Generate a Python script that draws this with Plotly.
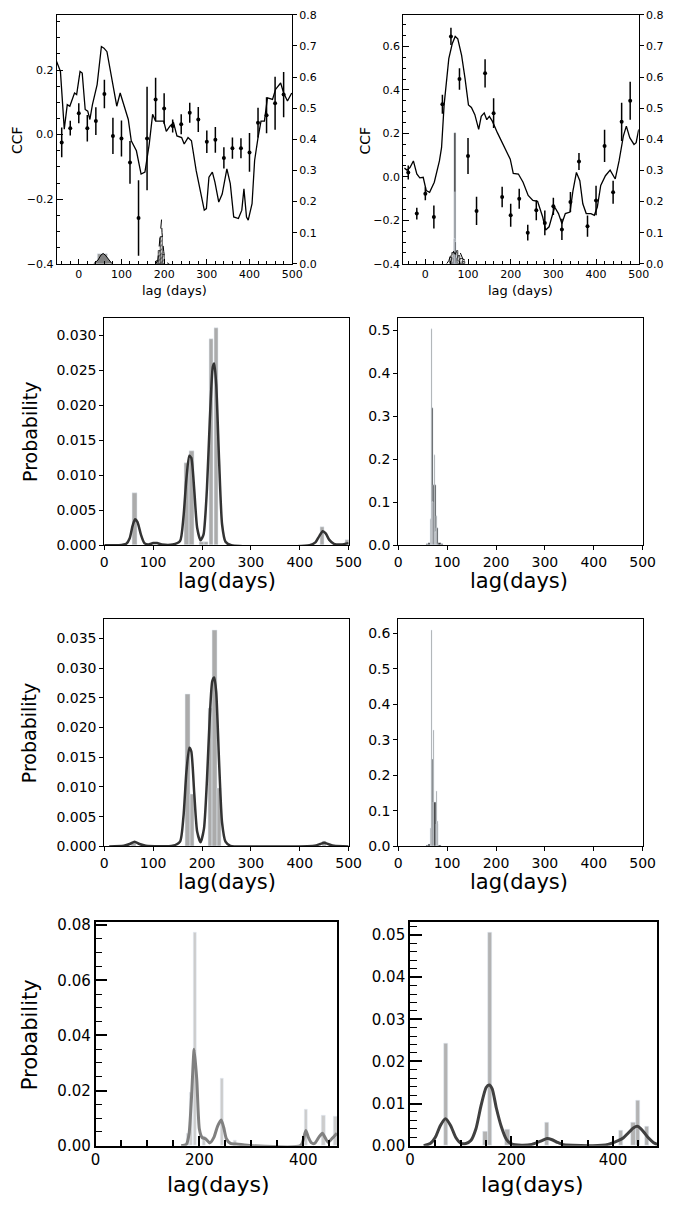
import plotly.graph_objects as go

W, H = 678, 1205

# ---------------- Row 1 left: CCF ----------------
lag1 = [-52,-43,-34,-27,-21,-10,-5,3,8,15,21,26,32,43,53,59,66,78,89,97,108,116,123,135,146,155,165,173,180,199,205,214,222,230,241,247,256,264,275,283,294,299,305,313,319,328,336,347,355,363,374,382,387,393,397,406,412,420,427,435,442,454,461,473,480,489,499]
ccf1 = [0.227,0.196,0.017,0.093,0.088,0.129,0.124,0.196,0.191,0.078,0.073,0.047,0.093,0.155,0.273,0.268,0.257,0.175,0.088,0.129,0.083,0.047,-0.019,-0.050,-0.122,-0.116,-0.030,0.063,0.042,0.042,0.010,0.027,0.037,-0.004,-0.009,-0.029,-0.009,-0.019,-0.111,-0.162,-0.234,-0.229,-0.132,-0.116,-0.147,-0.209,-0.184,-0.106,-0.152,-0.255,-0.260,-0.234,-0.168,-0.255,-0.265,-0.214,-0.080,-0.009,0.042,0.042,0.114,0.109,0.140,0.160,0.129,0.104,0.129]
pt_lag = [-40,-20,0,20,40,60,80,100,120,140,160,180,200,220,240,260,280,300,320,340,360,380,400,420,440,460,480]
pt1 = [-0.024,0.020,0.066,0.020,0.042,0.126,-0.004,-0.012,-0.086,-0.258,-0.012,0.109,0.081,0.027,0.032,0.068,0.047,-0.022,-0.016,-0.072,-0.042,-0.042,-0.055,0.037,0.060,0.097,0.124]
err1 = [0.046,0.023,0.031,0.041,0.043,0.044,0.056,0.056,0.066,0.117,0.160,0.067,0.047,0.020,0.031,0.031,0.039,0.035,0.040,0.033,0.033,0.031,0.060,0.046,0.056,0.082,0.070]
h1_gray_lag = [56]
h1_gray_val = [0.032]
h1_curve_lag = [35,45,52,57,62,70,78]
h1_curve_val = [0,0.012,0.028,0.033,0.028,0.012,0]
h1_hatch_lag = [184,189,194,199]
h1_hatch_val = [0.01,0.04,0.085,0.03]
h1_dash_lag = [180,185,188,190,192,194,195,197,199,202,206,212]
h1_dash_val = [0,0.01,0.05,0.09,0.12,0.143,0.10,0.06,0.04,0.01,0.003,0]

# ---------------- Row 1 right: CCF ----------------
lag2 = [-49,-43,-36,-28,-20,-13,-5,2,10,21,33,38,44,55,63,70,76,85,93,101,108,116,125,131,138,144,150,157,169,184,199,206,218,229,241,252,263,275,282,290,297,303,312,320,328,339,346,354,362,369,377,388,396,403,411,422,433,445,454,464,471,479,489,494,500]
ccf2 = [0.040,0.031,0.043,0.073,0.013,-0.005,-0.002,-0.063,-0.071,-0.025,0.073,0.134,0.331,0.544,0.612,0.646,0.635,0.559,0.453,0.331,0.319,0.286,0.218,0.278,0.294,0.263,0.278,0.256,0.202,0.142,0.081,0.016,0.013,-0.025,-0.086,-0.109,-0.113,-0.185,-0.245,-0.230,-0.177,-0.139,-0.169,-0.215,-0.169,-0.162,-0.063,0.020,-0.018,-0.124,-0.169,-0.169,-0.177,-0.139,-0.040,0.005,0.031,-0.010,0.073,0.187,0.233,0.180,0.149,0.157,0.218]
pt2 = [0.020,-0.169,-0.078,-0.185,0.334,0.646,0.450,0.096,-0.157,0.476,0.293,-0.093,-0.177,-0.101,-0.257,-0.154,-0.212,-0.136,-0.242,-0.116,0.070,-0.227,-0.109,0.142,-0.071,0.253,0.350]
err2 = [0.032,0.027,0.030,0.053,0.044,0.040,0.050,0.083,0.065,0.065,0.068,0.047,0.053,0.046,0.036,0.046,0.057,0.040,0.049,0.046,0.039,0.049,0.068,0.074,0.053,0.088,0.087]
h2_gray_lag = [70]
h2_gray_val = [0.42]
h2_blk_lag = [64,66,68,70,72,74,76]
h2_blk_val = [0.005,0.02,0.08,0.23,0.07,0.02,0.005]
h2_hatch_lag = [60,65,75,80,85,90]
h2_hatch_val = [0.02,0.035,0.04,0.025,0.015,0.005]
h2_dash_lag = [50,55,60,63,66,70,75,78,82,88,95,105]
h2_dash_val = [0,0.01,0.03,0.02,0.04,0.03,0.045,0.03,0.035,0.015,0.01,0]

# ---------------- Row 2 ----------------
p3_bar_lag = [62,169,179,199,209,219,229,446,497]
p3_bar_val = [0.0074,0.0117,0.0135,0.0004,0.0005,0.0295,0.0311,0.0026,0.0008]
p3_kde_lag = [0,30,45,52,58,63,68,75,82,90,100,108,118,140,155,162,168,174,178,184,190,197,203,210,216,222,225,229,235,241,248,260,420,432,440,447,453,460,470,485,500]
p3_kde_val = [0,0,0.0002,0.001,0.0028,0.0037,0.0033,0.0015,0.0003,0.0001,0.0003,0.0003,0.0001,0.0001,0.0006,0.004,0.0095,0.0128,0.0125,0.008,0.0025,0.0007,0.0015,0.008,0.018,0.0255,0.026,0.023,0.012,0.003,0.0005,0,0,0.0004,0.0013,0.002,0.0017,0.0008,0.0002,0.0001,0.0003]
p4_blk_lag = [59.5,64.5,69.5,74.5,79.5,84.5,89.5]
p4_blk_val = [0.003,0.006,0.318,0.14,0.04,0.005,0.002]
p4_gray_lag = [66,69,71,74,77,79]
p4_gray_val = [0.06,0.503,0.10,0.21,0.03,0.067]

# ---------------- Row 3 ----------------
p5_bar_lag = [60,170.5,180,217,226.5,235,450]
p5_bar_val = [0.0007,0.0256,0.0087,0.0233,0.0364,0.0097,0.0009]
p5_kde_lag = [10,40,52,62,72,85,140,155,162,168,174,178,184,190,197,204,210,216,221,225,229,235,241,248,258,300,430,442,450,458,470,500]
p5_kde_val = [0,0.0001,0.0004,0.0008,0.0004,0.0001,0.0001,0.0008,0.005,0.0125,0.0166,0.016,0.009,0.0025,0.0007,0.003,0.011,0.022,0.0278,0.0284,0.026,0.014,0.004,0.0008,0.0001,0,0.0001,0.0004,0.0006,0.0004,0.0001,0]
p6_blk_lag = [59.5,64.5,69.5,74.5,79.5,84.5]
p6_blk_val = [0.003,0.006,0.244,0.125,0.061,0.004]
p6_gray_lag = [67,69,73,79,81]
p6_gray_val = [0.05,0.607,0.326,0.155,0.071]

# ---------------- Row 4 ----------------
p7_bar_lag = [178,184,192,209,244,269,405,439,462]
p7_bar_val = [0.0044,0.0193,0.0773,0.0035,0.0244,0.002,0.0131,0.011,0.0107]
p7_kde_lag = [165,175,180,185,190,195,200,205,212,220,228,235,242,247,252,260,275,300,395,400,405,410,416,422,430,437,442,448,455,465]
p7_kde_val = [0,0.0005,0.004,0.018,0.035,0.024,0.006,0.003,0.0025,0.001,0.003,0.007,0.0093,0.0065,0.0025,0.0008,0.0005,0,0,0.002,0.0055,0.003,0.001,0.0008,0.003,0.0045,0.003,0.0012,0.0025,0.0045]
p8_bar_lag = [71.5,149,157.5,192,270,416,440.5,449.5,467]
p8_bar_val = [0.0242,0.0033,0.0507,0.0039,0.0056,0.0035,0.0055,0.0108,0.0045]
p8_kde_lag = [27,40,50,60,70,80,90,100,110,120,130,140,150,156,162,170,180,190,200,220,240,260,270,280,290,300,320,360,390,410,420,430,440,448,455,462,470,480,487]
p8_kde_val = [0,0.0005,0.002,0.0048,0.0064,0.0048,0.002,0.0006,0.0005,0.0012,0.004,0.0095,0.0138,0.0144,0.0135,0.009,0.0045,0.0015,0.0004,0.0001,0.0003,0.0012,0.0017,0.0014,0.0008,0.0003,0.0001,0,0.0003,0.0012,0.0018,0.003,0.0042,0.0046,0.004,0.003,0.0018,0.0007,0.0003]

FONT = "DejaVu Sans"


def dx(a, b):
    return [a / W, b / W]


def dy(t, b):
    return [1 - b / H, 1 - t / H]


fig = go.Figure()

hatch = dict(color="white", line=dict(color="black", width=0.7),
             pattern=dict(shape="/", fgcolor="black", bgcolor="white", size=3, solidity=0.35))

# ---- P1 ----
fig.add_trace(go.Scatter(x=lag1, y=ccf1, mode="lines", line=dict(color="black", width=1.3), xaxis="x", yaxis="y"))
fig.add_trace(go.Scatter(x=pt_lag, y=pt1, mode="markers", marker=dict(color="black", size=4),
                         error_y=dict(type="data", array=err1, color="black", thickness=1.5, width=0),
                         xaxis="x", yaxis="y"))
fig.add_trace(go.Bar(x=h1_gray_lag, y=h1_gray_val, width=24, marker=dict(color="#a0a0a0"), xaxis="x", yaxis="y2"))
fig.add_trace(go.Scatter(x=h1_curve_lag, y=h1_curve_val, mode="lines", fill="tozeroy", fillcolor="#808080",
                         line=dict(color="black", width=1), xaxis="x", yaxis="y2"))
fig.add_trace(go.Bar(x=h1_hatch_lag, y=h1_hatch_val, width=5, marker=hatch, xaxis="x", yaxis="y2"))
fig.add_trace(go.Scatter(x=h1_dash_lag, y=h1_dash_val, mode="lines", line=dict(color="black", width=1, dash="dash"),
                         xaxis="x", yaxis="y2"))

# ---- P2 ----
fig.add_trace(go.Scatter(x=lag2, y=ccf2, mode="lines", line=dict(color="black", width=1.3), xaxis="x2", yaxis="y3"))
fig.add_trace(go.Scatter(x=pt_lag, y=pt2, mode="markers", marker=dict(color="black", size=4),
                         error_y=dict(type="data", array=err2, color="black", thickness=1.5, width=0),
                         xaxis="x2", yaxis="y3"))
fig.add_trace(go.Bar(x=h2_hatch_lag, y=h2_hatch_val, width=5, marker=hatch, xaxis="x2", yaxis="y4"))
fig.add_trace(go.Scatter(x=h2_dash_lag, y=h2_dash_val, mode="lines", line=dict(color="black", width=1, dash="dash"),
                         xaxis="x2", yaxis="y4"))
fig.add_trace(go.Bar(x=h2_gray_lag, y=h2_gray_val, width=2.8, marker=dict(color="#3a3a3a"), xaxis="x2", yaxis="y4"))
fig.add_trace(go.Bar(x=h2_blk_lag, y=h2_blk_val, width=2, marker=dict(color="#111111"), xaxis="x2", yaxis="y4"))

# ---- P3 ----
fig.add_trace(go.Bar(x=p3_bar_lag, y=p3_bar_val, width=9.5, marker=dict(color="#ababab"), xaxis="x3", yaxis="y5"))
fig.add_trace(go.Scatter(x=p3_kde_lag, y=p3_kde_val, mode="lines", line=dict(color="#333333", width=2.5, shape="spline", smoothing=0.6),
                         xaxis="x3", yaxis="y5"))
# ---- P4 ----
fig.add_trace(go.Bar(x=p4_blk_lag, y=p4_blk_val, width=5, marker=dict(color="#141414"), xaxis="x4", yaxis="y6"))
fig.add_trace(go.Bar(x=p4_gray_lag, y=p4_gray_val, width=2, marker=dict(color="#8c8c8c"), xaxis="x4", yaxis="y6"))
# ---- P5 ----
fig.add_trace(go.Bar(x=p5_bar_lag, y=p5_bar_val, width=9.5, marker=dict(color="#ababab"), xaxis="x5", yaxis="y7"))
fig.add_trace(go.Scatter(x=p5_kde_lag, y=p5_kde_val, mode="lines", line=dict(color="#333333", width=2.5, shape="spline", smoothing=0.6),
                         xaxis="x5", yaxis="y7"))
# ---- P6 ----
fig.add_trace(go.Bar(x=p6_blk_lag, y=p6_blk_val, width=5, marker=dict(color="#141414"), xaxis="x6", yaxis="y8"))
fig.add_trace(go.Bar(x=p6_gray_lag, y=p6_gray_val, width=2, marker=dict(color="#8c8c8c"), xaxis="x6", yaxis="y8"))
# ---- P7 ----
fig.add_trace(go.Bar(x=p7_bar_lag, y=p7_bar_val, width=6.5, marker=dict(color="#cccccc"), xaxis="x7", yaxis="y9"))
fig.add_trace(go.Scatter(x=p7_kde_lag, y=p7_kde_val, mode="lines", line=dict(color="#808080", width=3, shape="spline", smoothing=0.6),
                         xaxis="x7", yaxis="y9"))
# ---- P8 ----
fig.add_trace(go.Bar(x=p8_bar_lag, y=p8_bar_val, width=8.5, marker=dict(color="#b3b3b3"), xaxis="x8", yaxis="y10"))
fig.add_trace(go.Scatter(x=p8_kde_lag, y=p8_kde_val, mode="lines", line=dict(color="#404040", width=3, shape="spline", smoothing=0.6),
                         xaxis="x8", yaxis="y10"))


def base_axis(**kw):
    d = dict(showgrid=False, zeroline=False, showline=True, linecolor="black", linewidth=1,
             mirror=True, tickcolor="black", tickfont=dict(family=FONT, color="black"))
    d.update(kw)
    return d


lay = dict(width=W, height=H, margin=dict(l=0, r=0, t=0, b=0), paper_bgcolor="white",
           plot_bgcolor="white", showlegend=False, barmode="overlay", bargap=0,
           font=dict(family=FONT, color="black"))

# Row 1 axes
r1_tf = dict(family=FONT, size=11, color="black")
for xa, ya, ya2, xd, ccf_range in [("xaxis", "yaxis", "yaxis2", dx(53, 295), [-0.4, 0.371]),
                                      ("xaxis2", "yaxis3", "yaxis4", dx(409, 651), [-0.4, 0.745])]:
    xid = "x" if xa == "xaxis" else "x2"
    yid = "y" if ya == "yaxis" else "y3"
    lay[xa] = base_axis(domain=xd, anchor=yid, range=[-52, 500], tickvals=[0, 100, 200, 300, 400, 500],
                        ticks="inside", ticklen=5, tickfont=r1_tf,
                        minor=dict(ticks="inside", ticklen=3, dtick=20, tick0=0, tickcolor="black"))
    lay[ya] = base_axis(domain=dy(9, 261), anchor=xid, range=ccf_range, dtick=0.2, tick0=0, tickformat=".1f",
                        ticks="inside", ticklen=6, tickfont=r1_tf,
                        minor=dict(ticks="inside", ticklen=3, dtick=0.05, tick0=0, tickcolor="black"))
    lay[ya2] = dict(overlaying=yid, anchor=xid, side="right", range=[0, 0.8], dtick=0.1, tick0=0,
                    tickformat=".1f", ticks="outside", ticklen=4, showgrid=False, zeroline=False,
                    showline=True, linecolor="black", linewidth=1, tickcolor="black", tickfont=r1_tf)

# Rows 2-3
r23_tf = dict(family=FONT, size=14, color="black")
panels23 = [("xaxis3", "yaxis5", "x3", "y5", dx(102, 353), dy(316, 546), [0, 0.0325], 0.005, ".3f"),
            ("xaxis4", "yaxis6", "x4", "y6", dx(404, 655), dy(316, 546), [0, 0.528], 0.1, ".1f"),
            ("xaxis5", "yaxis7", "x5", "y7", dx(102, 353), dy(621, 851), [0, 0.0382], 0.005, ".3f"),
            ("xaxis6", "yaxis8", "x6", "y8", dx(404, 655), dy(621, 851), [0, 0.639], 0.1, ".1f")]
for xa, ya, xid, yid, xd, yd, yr, dt, fmt in panels23:
    lay[xa] = base_axis(domain=xd, anchor=yid, range=[0, 500], dtick=100, tick0=0, ticks="outside",
                        ticklen=4, tickfont=r23_tf)
    lay[ya] = base_axis(domain=yd, anchor=xid, range=yr, dtick=dt, tick0=0, tickformat=fmt,
                        ticks="outside", ticklen=4, tickfont=r23_tf)

# Row 4
r4_tf = dict(family=FONT, size=15, color="black")
panels4 = [("xaxis7", "yaxis9", "x7", "y9", dx(93, 341), [0, 465], [0, 0.081], 0.02, 0.005),
           ("xaxis8", "yaxis10", "x8", "y10", dx(416, 670), [0, 487], [0, 0.053], 0.01, 0.002)]
for xa, ya, xid, yid, xd, xr, yr, dt, mdt in panels4:
    lay[xa] = base_axis(domain=xd, anchor=yid, range=xr, dtick=200, tick0=0, ticks="inside",
                        ticklen=10, tickwidth=1.5, linewidth=1.5, tickfont=r4_tf,
                        minor=dict(ticks="inside", ticklen=6, dtick=50, tick0=0, tickcolor="black", tickwidth=1.5))
    lay[ya] = base_axis(domain=dy(928, 1154), anchor=xid, range=yr, dtick=dt, tick0=0, tickformat=".2f",
                        ticks="inside", ticklen=12, tickwidth=1.5, linewidth=1.5, tickfont=r4_tf,
                        minor=dict(ticks="inside", ticklen=7, dtick=mdt, tick0=0, tickcolor="black", tickwidth=1.2))


def ann(text, px, py, size, angle=0):
    return dict(text=text, x=px / W, y=1 - py / H, xref="paper", yref="paper", showarrow=False,
                xanchor="center", yanchor="middle", textangle=angle,
                font=dict(family=FONT, size=size, color="black"))


lay["annotations"] = [
    ann("CCF", 13, 136, 14, -90),
    ann("lag (days)", 174, 288, 13),
    ann("CCF", 370, 136, 14, -90),
    ann("lag (days)", 530, 288, 13),
    ann("Probability", 25, 431, 19, -90),
    ann("lag(days)", 228, 582, 21),
    ann("lag(days)", 528, 582, 21),
    ann("Probability", 25, 736, 19, -90),
    ann("lag(days)", 228, 887, 21),
    ann("lag(days)", 528, 887, 21),
    ann("Probability", 26, 1042, 21, -90),
    ann("lag(days)", 219, 1193, 22),
    ann("lag(days)", 542, 1193, 22),
]

fig.update_layout(**lay)
fig.write_html("out.html")
